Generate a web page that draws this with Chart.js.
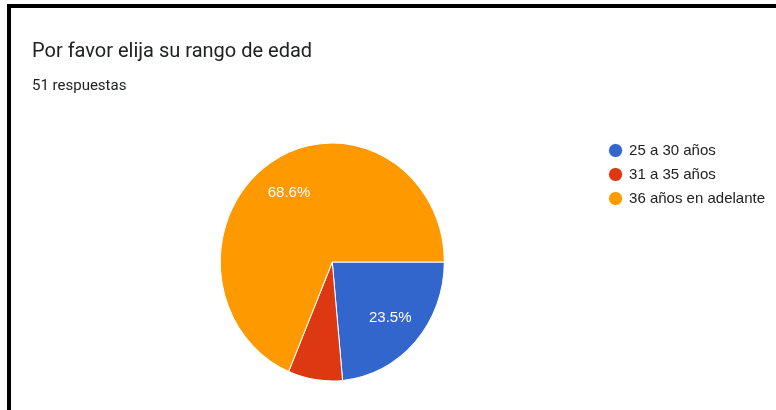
<!DOCTYPE html>
<html>
<head>
<meta charset="utf-8">
<script src="https://cdn.jsdelivr.net/npm/chart.js@4.4.0/dist/chart.umd.min.js"></script>
<style>
  html, body { margin: 0; padding: 0; background: #fff; }
  #wrap { position: relative; width: 776px; height: 410px; overflow: hidden; background: #fff; }
  #frame { position: absolute; left: 7px; top: 4px; right: -20px; bottom: -20px;
           border-top: 4px solid #000; border-left: 4px solid #000; pointer-events: none; }
  #title { position: absolute; left: 32px; top: 40px; margin: 0; font: 400 20px Roboto, sans-serif;
           line-height: 20px; color: #202124; white-space: nowrap; }
  #sub { position: absolute; left: 32px; top: 78px; margin: 0; font: 400 15px Roboto, sans-serif;
         line-height: 15px; color: #202124; white-space: nowrap; }
  canvas { position: absolute; left: 0; top: 0; }
</style>
</head>
<body>
<div id="wrap">
  <canvas id="c" width="776" height="410"></canvas>
  <div id="title"></div>
  <div id="sub"></div>
  <div id="frame"></div>
</div>
<script>
const chartTitle = 'Por favor elija su rango de edad';
const chartSubtitle = '51 respuestas';
const categories = ['25 a 30 años', '31 a 35 años', '36 años en adelante'];
const responses = [12, 4, 35];

document.getElementById('title').textContent = chartTitle;
document.getElementById('sub').textContent = chartSubtitle;

const Y_STRETCH = 119 / 112;

const stretchPlugin = {
  id: 'stretchY',
  beforeDatasetsDraw(chart) {
    const arc = chart.getDatasetMeta(0).data[0];
    const ctx = chart.ctx;
    ctx.save();
    ctx.translate(arc.x, arc.y);
    ctx.scale(1, Y_STRETCH);
    ctx.translate(-arc.x, -arc.y);
  },
  afterDatasetsDraw(chart) {
    chart.ctx.restore();
  }
};

const sliceLabelPlugin = {
  id: 'sliceLabels',
  afterDatasetsDraw(chart) {
    const ctx = chart.ctx;
    const meta = chart.getDatasetMeta(0);
    const values = chart.data.datasets[0].data;
    const total = values.reduce((a, b) => a + b, 0);
    ctx.save();
    ctx.fillStyle = '#ffffff';
    ctx.font = '15px "Liberation Sans", Arial, sans-serif';
    ctx.textAlign = 'center';
    ctx.textBaseline = 'middle';
    meta.data.forEach((arc, i) => {
      const share = values[i] / total;
      if (share < 0.1) return;
      const mid = (arc.startAngle + arc.endAngle) / 2;
      const d = arc.outerRadius * 0.7;
      const x = arc.x + Math.cos(mid) * d;
      const y = arc.y + Math.sin(mid) * d * Y_STRETCH;
      ctx.fillText((share * 100).toFixed(1) + '%', x, y);
    });
    ctx.restore();
  }
};

new Chart(document.getElementById('c'), {
  type: 'pie',
  data: {
    labels: categories,
    datasets: [{
      data: responses,
      backgroundColor: ['#3366CC', '#DC3912', '#FF9900'],
      borderColor: '#ffffff',
      borderWidth: 1,
      hoverOffset: 0
    }]
  },
  options: {
    responsive: false,
    animation: false,
    rotation: 90,
    radius: 112,
    layout: { padding: { left: 64, right: 1, top: 134, bottom: 20 } },
    plugins: {
      legend: {
        position: 'right',
        align: 'start',
        labels: {
          usePointStyle: true,
          pointStyle: 'circle',
          boxWidth: 12,
          boxHeight: 10,
          padding: 9,
          color: '#222222',
          font: { family: '"Liberation Sans", Arial, sans-serif', size: 15 }
        }
      },
      tooltip: { enabled: false },
      title: { display: false }
    }
  },
  plugins: [stretchPlugin, sliceLabelPlugin]
});
</script>
</body>
</html>
